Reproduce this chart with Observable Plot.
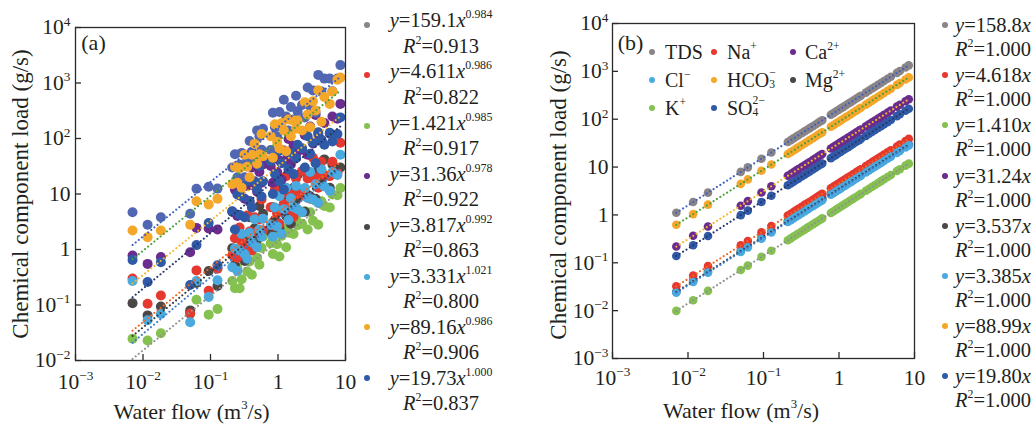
<!DOCTYPE html>
<html><head><meta charset="utf-8">
<script src="https://cdn.jsdelivr.net/npm/d3@7"></script>
<script src="https://cdn.jsdelivr.net/npm/@observablehq/plot@0.6"></script>
<style>
html,body{margin:0;padding:0;background:#fff;}
#root{position:relative;width:1035px;height:425px;overflow:hidden;font-family:"Liberation Serif","Times New Roman",serif;color:#231f20;}
#root svg{position:absolute;top:0;}
.t{position:absolute;white-space:nowrap;line-height:1;transform:translate(-50%,-50%);}
.l{position:absolute;white-space:nowrap;line-height:1;transform:translate(0,-50%);}
.dot{position:absolute;border-radius:50%;transform:translate(-50%,-50%);}
sup.s{font-size:0.58em;position:relative;top:-0.75em;vertical-align:baseline;line-height:0;}
.st{display:inline-block;font-size:0.58em;line-height:1.1;vertical-align:-0.2em;text-align:left;}
.st span{display:block;}
</style>
</head><body>
<div id="root"></div>
<script>
// ---------------- DATA ----------------
const flows = [0.0070, 0.0117, 0.0184, 0.050, 0.062, 0.094, 0.127,
  0.21, 0.23, 0.25, 0.27, 0.29, 0.32, 0.35, 0.38, 0.41, 0.45, 0.49, 0.53, 0.57, 0.60,
  0.78, 0.84, 0.90, 0.97, 1.05, 1.13, 1.22, 1.32, 1.43, 1.55, 1.70, 1.85, 1.95,
  2.27, 2.5, 2.75, 3.0, 3.3, 3.6, 3.95, 4.4, 4.86,
  5.85, 6.4, 7.6, 8.4];

const series = ["TDS", "Na", "K", "Ca", "Mg", "Cl", "HCO3", "SO4"];

// panel (a): observed loads (g/s)
const aTDS = [4.7, 2.8, 3.8, 4.4, 12.4, 13.5, 12.5,
  30, 52, 20, 34, 55, 20, 42, 90, 58, 43, 140, 110, 63, 150,
  62, 290, 160, 110, 300, 160, 500, 250, 140, 370, 220, 590, 310,
  400, 240, 830, 380, 730, 290, 1400, 700, 1200,
  1200, 710, 1200, 2100];
const aNa = [0.30, 0.105, 0.148, 0.07, 0.42, 0.18, 0.45,
  0.79, 1.6, 0.71, 2.5, 1.4, 1.06, 4.1, 2.1, 0.96, 3.8, 2.1, 3.5, 8.0, 2.2,
  5.8, 2.7, 12, 4.5, 2.9, 10, 6.7, 21, 5.3, 9.9, 3.9, 19, 9.9,
  26, 9.2, 19, 8.2, 45, 20, 13, 38, 22,
  21, 38, 24, 84];
const aK = [0.0246, 0.023, 0.031, 0.07, 0.124, 0.067, 0.085,
  0.27, 0.2, 0.47, 0.2, 0.29, 0.69, 0.4, 0.61, 0.35, 1.17, 0.71, 0.53, 1.07, 1.72,
  1.3, 0.83, 2.0, 1.24, 0.75, 1.76, 2.4, 1.1, 2.0, 2.9, 1.9, 3.9, 2.75,
  2.9, 4.9, 2.3, 4.7, 3.3, 7.6, 2.8, 7.4, 6.1,
  5.7, 9.8, 9.5, 12.8];
const aCa = [0.78, 0.55, 0.73, 0.89, 2.45, 2.4, 2.3,
  4.8, 12, 4.0, 9.5, 18, 8.2, 14, 7.2, 30, 14, 11, 25, 16, 34,
  32, 16, 54, 25, 40, 18, 61, 41, 98, 34, 74, 51, 66,
  63, 115, 51, 165, 81, 265, 120, 94, 190,
  123, 250, 227, 420];
const aMg = [0.108, 0.065, 0.094, 0.080, 0.25, 0.41, 0.22,
  1.05, 0.53, 2.1, 0.94, 1.8, 0.62, 1.5, 3.8, 1.1, 2.4, 1.5, 6.1, 2.2, 4.4,
  2.1, 5.8, 3.4, 12, 2.4, 5.6, 11, 4.0, 8.2, 2.9, 13, 7.7, 22,
  10.3, 4.8, 21, 9.1, 19, 8.2, 27, 17, 42,
  13, 34, 26, 30];
const aCl = [0.27, 0.053, 0.069, 0.049, 0.27, 0.14, 0.28,
  0.48, 1.04, 0.41, 0.97, 1.9, 0.83, 0.68, 2.0, 1.34, 3.5, 1.1, 2.3, 1.7, 3.6,
  2.8, 1.7, 5.7, 2.6, 9.1, 1.9, 5.3, 13, 3.4, 8.4, 5.8, 14, 5.3,
  4.7, 12.8, 8.5, 25, 8.0, 15, 6.9, 28, 13.7,
  11.4, 25, 22, 51];
const aHCO3 = [2.2, 1.67, 2.2, 2.8, 7.4, 6.5, 8.2,
  15, 31, 16, 29, 13, 51, 31, 20, 51, 80, 35, 52, 120, 48,
  110, 45, 180, 87, 66, 190, 140, 59, 220, 110, 210, 150, 210,
  140, 450, 270, 160, 470, 320, 740, 200, 560,
  420, 700, 1150, 1250];
const aSO4 = [0.65, 0.26, 0.59, 0.23, 1.2, 3.0, 0.52,
  4.9, 2.3, 9.8, 4.2, 9.1, 3.8, 17, 7.5, 5.7, 17, 12, 32, 9.0, 17,
  39, 10, 23, 57, 17, 36, 12, 57, 28, 55, 23, 44, 77,
  67, 30, 110, 53, 85, 36, 130, 95, 77,
  127, 88, 120, 240];

// panel (b): loads (g/s)
const bTDS = [1.11, 1.86, 2.92, 7.94, 9.85, 14.9, 20.2,
  33.3, 36.5, 39.7, 42.9, 46.1, 50.8, 55.6, 60.3, 65.1, 71.5, 77.8, 84.2, 90.5, 95.3,
  124, 133, 143, 154, 167, 179, 194, 210, 227, 246, 270, 294, 310,
  360, 397, 437, 476, 524, 572, 627, 699, 772,
  929, 1016, 1207, 1334];
const bNa = [0.0323, 0.054, 0.085, 0.231, 0.286, 0.434, 0.586,
  0.970, 1.06, 1.15, 1.25, 1.34, 1.48, 1.62, 1.75, 1.89, 2.08, 2.26, 2.45, 2.63, 2.77,
  3.60, 3.88, 4.16, 4.48, 4.85, 5.22, 5.63, 6.10, 6.60, 7.16, 7.85, 8.54, 9.01,
  10.5, 11.5, 12.7, 13.9, 15.2, 16.6, 18.2, 20.3, 22.4,
  27.0, 29.6, 35.1, 38.8];
const bK = [0.00987, 0.0165, 0.0259, 0.0705, 0.0874, 0.133, 0.179,
  0.296, 0.324, 0.353, 0.381, 0.409, 0.451, 0.494, 0.536, 0.578, 0.635, 0.691, 0.747, 0.804, 0.846,
  1.10, 1.18, 1.27, 1.37, 1.48, 1.59, 1.72, 1.86, 2.02, 2.19, 2.40, 2.61, 2.75,
  3.20, 3.53, 3.88, 4.23, 4.65, 5.08, 5.57, 6.20, 6.85,
  8.25, 9.02, 10.7, 11.8];
const bCa = [0.219, 0.366, 0.575, 1.56, 1.94, 2.94, 3.97,
  6.56, 7.19, 7.81, 8.43, 9.06, 10.0, 10.9, 11.9, 12.8, 14.1, 15.3, 16.6, 17.8, 18.7,
  24.4, 26.2, 28.1, 30.3, 32.8, 35.3, 38.1, 41.2, 44.7, 48.4, 53.1, 57.8, 60.9,
  70.9, 78.1, 85.9, 93.7, 103, 112, 123, 137, 152,
  183, 200, 237, 262];
const bMg = [0.0248, 0.0414, 0.0651, 0.177, 0.219, 0.332, 0.449,
  0.743, 0.814, 0.884, 0.955, 1.03, 1.13, 1.24, 1.34, 1.45, 1.59, 1.73, 1.87, 2.02, 2.12,
  2.76, 2.97, 3.18, 3.43, 3.71, 4.00, 4.32, 4.67, 5.06, 5.48, 6.01, 6.54, 6.90,
  8.03, 8.84, 9.73, 10.6, 11.7, 12.7, 14.0, 15.6, 17.2,
  20.7, 22.6, 26.9, 29.7];
const bCl = [0.0237, 0.0396, 0.0623, 0.169, 0.210, 0.318, 0.430,
  0.711, 0.779, 0.846, 0.914, 0.982, 1.08, 1.18, 1.29, 1.39, 1.52, 1.66, 1.79, 1.93, 2.03,
  2.64, 2.84, 3.05, 3.28, 3.55, 3.83, 4.13, 4.47, 4.84, 5.25, 5.75, 6.26, 6.60,
  7.68, 8.46, 9.31, 10.2, 11.2, 12.2, 13.4, 14.9, 16.5,
  19.8, 21.7, 25.7, 28.4];
const bHCO3 = [0.623, 1.04, 1.64, 4.45, 5.52, 8.37, 11.3,
  18.7, 20.5, 22.2, 24.0, 25.8, 28.5, 31.1, 33.8, 36.5, 40.0, 43.6, 47.2, 50.7, 53.4,
  69.4, 74.8, 80.1, 86.3, 93.4, 101, 109, 117, 127, 138, 151, 165, 174,
  202, 222, 245, 267, 294, 320, 352, 392, 432,
  521, 570, 676, 748];
const bSO4 = [0.139, 0.232, 0.364, 0.990, 1.23, 1.86, 2.51,
  4.16, 4.55, 4.95, 5.35, 5.74, 6.34, 6.93, 7.52, 8.12, 8.91, 9.70, 10.5, 11.3, 11.9,
  15.4, 16.6, 17.8, 19.2, 20.8, 22.4, 24.2, 26.1, 28.3, 30.7, 33.7, 36.6, 38.6,
  44.9, 49.5, 54.5, 59.4, 65.3, 71.3, 78.2, 87.1, 96.2,
  116, 127, 150, 166];

// regression equations shown in the legends (same order as `series`)
const coefA = [159.1, 4.611, 1.421, 31.36, 3.817, 3.331, 89.16, 19.73];
const expA  = [0.984, 0.986, 0.985, 0.978, 0.992, 1.021, 0.986, 1.000];
const r2A   = [0.913, 0.822, 0.917, 0.922, 0.863, 0.800, 0.906, 0.837];
const coefB = [158.8, 4.618, 1.410, 31.24, 3.537, 3.385, 88.99, 19.80];
const r2B   = [1.000, 1.000, 1.000, 1.000, 1.000, 1.000, 1.000, 1.000];

const xTicks = [1e-3, 1e-2, 1e-1, 1, 10];
const yTicksA = [1e-2, 1e-1, 1, 10, 1e2, 1e3, 1e4];
const yTicksB = [1e-3, 1e-2, 1e-1, 1, 10, 1e2, 1e3, 1e4];

const legendLabels = ["TDS", "Na<sup class='s'>+</sup>", "K<sup class='s'>+</sup>", "Ca<sup class='s'>2+</sup>",
  "Mg<sup class='s'>2+</sup>", "Cl<sup class='s'>−</sup>",
  "HCO<span class='st'><span>−</span><span>3</span></span>",
  "SO<span class='st'><span>2−</span><span>4</span></span>"];

// ---------------- STYLE ----------------
const pointColor = {TDS:"#8b8486", Na:"#e5392f", K:"#85c14f", Ca:"#6a2c8e", Mg:"#4c4747", Cl:"#4aa9de", HCO3:"#f5a72a", SO4:"#2f5aa7"};
const pointColorA = {...pointColor, TDS:"#5267b2"};
const lineColor = {TDS:"#3d5fc0", Na:"#f26522", K:"#909090", Ca:"#f7b52a", Mg:"#3a3a3a", Cl:"#3d7ac9", HCO3:"#4a9f3a", SO4:"#28366b"};
const orderA = ["K", "Mg", "Na", "Cl", "Ca", "SO4", "TDS", "HCO3"];
const orderB = ["K", "Mg", "Na", "Cl", "SO4", "Ca", "HCO3", "TDS"];

const aData = {TDS:aTDS, Na:aNa, K:aK, Ca:aCa, Mg:aMg, Cl:aCl, HCO3:aHCO3, SO4:aSO4};
const bData = {TDS:bTDS, Na:bNa, K:bK, Ca:bCa, Mg:bMg, Cl:bCl, HCO3:bHCO3, SO4:bSO4};

const fmt = v => {
  if (v === 1) return "1";
  if (v === 10) return "10";
  const e = Math.round(Math.log10(v));
  return "10^" + (e < 0 ? "−" + (-e) : String(e));
};

function supTicks(svg) {
  svg.querySelectorAll('g[aria-label$="tick label"] text').forEach(t => {
    const s = t.textContent;
    const parts = s.split("^");
    if (parts.length === 2) {
      t.textContent = parts[0];
      const ts = document.createElementNS("http://www.w3.org/2000/svg", "tspan");
      ts.setAttribute("dy", "-8.5");
      ts.setAttribute("font-size", "0.62em");
      ts.textContent = parts[1];
      t.appendChild(ts);
    }
  });
}

function panel({data, order, colors, coef, exps, yDomain, yTicks, width, marginLeft, marginRight, marginTop, marginBottom, r, xPad, yPad}) {
  const height = 425;
  const innerW = width - marginLeft - marginRight;
  const innerH = height - marginTop - marginBottom;
  const ext = d3.extent(flows);
  const marks = [];
  for (const k of order) {
    marks.push(Plot.dot(flows.map((x, i) => ({x, y: data[k][i]})), {x: "x", y: "y", r, fill: colors[k], stroke: "none"}));
  }
  series.forEach((k, j) => {
    const pts = ext.map(x => ({x, y: coef[j] * Math.pow(x, exps[j])}));
    marks.push(Plot.line(pts, {x: "x", y: "y", stroke: lineColor[k], strokeWidth: 2.1, strokeDasharray: "0.01 4", strokeLinecap: "round"}));
  });
  marks.push(Plot.frame({stroke: "#2a2a2a", strokeWidth: 1.3}));
  marks.push(Plot.tickX(xTicks, {x: d => d, insetTop: innerH - 6, stroke: "#2a2a2a", strokeWidth: 1.3}));
  marks.push(Plot.tickY(yTicks, {y: d => d, insetRight: innerW - 6, stroke: "#2a2a2a", strokeWidth: 1.3}));
  marks.push(Plot.axisX({ticks: xTicks, tickFormat: fmt, tickSize: 0, tickPadding: xPad, label: null}));
  marks.push(Plot.axisY({ticks: yTicks, tickFormat: fmt, tickSize: 0, tickPadding: yPad, label: null}));
  const svg = Plot.plot({
    width, height, marginLeft, marginRight, marginTop, marginBottom,
    x: {type: "log", domain: [1e-3, 10], axis: null},
    y: {type: "log", domain: yDomain, axis: null},
    style: {fontFamily: '"Liberation Serif","Times New Roman",serif', fontSize: "21.5px", color: "#231f20", background: "transparent", overflow: "visible"},
    marks
  });
  supTicks(svg);
  return svg;
}

const root = document.getElementById("root");

const svgA = panel({data: aData, order: orderA, colors: pointColorA, coef: coefA, exps: expA,
  yDomain: [1e-2, 1e4], yTicks: yTicksA, width: 360, marginLeft: 75, marginRight: 15, marginTop: 27, marginBottom: 65, r: 5, xPad: 13, yPad: 5});
svgA.style.left = "0px";
root.appendChild(svgA);

const svgB = panel({data: bData, order: orderB, colors: pointColor, coef: coefB, exps: coefB.map(() => 1),
  yDomain: [1e-3, 1e4], yTicks: yTicksB, width: 410, marginLeft: 97, marginRight: 11, marginTop: 23, marginBottom: 67, r: 4.3, xPad: 11, yPad: 4});
svgB.style.left = "515px";
root.appendChild(svgB);

// ---------------- TEXT ----------------
function addText(cls, html, x, y, size, extra) {
  const d = document.createElement("div");
  d.className = cls;
  d.innerHTML = html;
  d.style.left = x + "px";
  d.style.top = y + "px";
  d.style.fontSize = size + "px";
  if (extra) Object.assign(d.style, extra);
  root.appendChild(d);
  return d;
}
function addDot(x, y, r, color) {
  const d = document.createElement("div");
  d.className = "dot";
  Object.assign(d.style, {left: x + "px", top: y + "px", width: 2 * r + "px", height: 2 * r + "px", background: color});
  root.appendChild(d);
}

// axis titles
addText("t", "Chemical component load (g/s)", 20, 193.5, 23, {transform: "translate(-50%,-50%) rotate(-90deg)"});
addText("t", "Chemical component load (g/s)", 558, 195, 23, {transform: "translate(-50%,-50%) rotate(-90deg)"});
addText("t", "Water flow (m<sup class='s'>3</sup>/s)", 191.5, 412, 22);
addText("t", "Water flow (m<sup class='s'>3</sup>/s)", 741, 411, 22);
addText("t", "(a)", 93.5, 43, 22);
addText("t", "(b)", 630.5, 43, 22);

// legend (a)
series.forEach((k, i) => {
  const y1 = 20.3 + 51.1 * i;
  addDot(367, 25 + 50.4 * i, 3, pointColor[k]);
  addText("t", `<i>y</i>=${coefA[i].toPrecision(4)}<i>x</i><sup class='s'>${expA[i].toFixed(3)}</sup>`, 441, y1, 20.5);
  addText("t", `<i>R</i><sup class='s'>2</sup>=${r2A[i].toFixed(3)}`, 441, y1 + 25.3, 20.5);
});

// legend (b)
series.forEach((k, i) => {
  const y1 = 25 + 50.2 * i;
  addDot(945, y1, 3, pointColor[k]);
  addText("t", `<i>y</i>=${coefB[i].toPrecision(4)}<i>x</i>`, 993, y1, 20.5);
  addText("t", `<i>R</i><sup class='s'>2</sup>=${r2B[i].toFixed(3)}`, 993, y1 + 24, 20.5);
});

// in-plot legend (b)
const keyCols = [652, 714, 793];
const keyText = [665, 727, 805];
const keyRows = [51.5, 79.5, 107.5];
const keyPos = {TDS:[0,0], Na:[1,0], Ca:[2,0], Cl:[0,1], HCO3:[1,1], Mg:[2,1], K:[0,2], SO4:[1,2]};
series.forEach((k, i) => {
  const [c, rr] = keyPos[k];
  addDot(keyCols[c], keyRows[rr], 3, pointColor[k]);
  addText("l", legendLabels[i], keyText[c], keyRows[rr], 20);
});
</script>
</body></html>
